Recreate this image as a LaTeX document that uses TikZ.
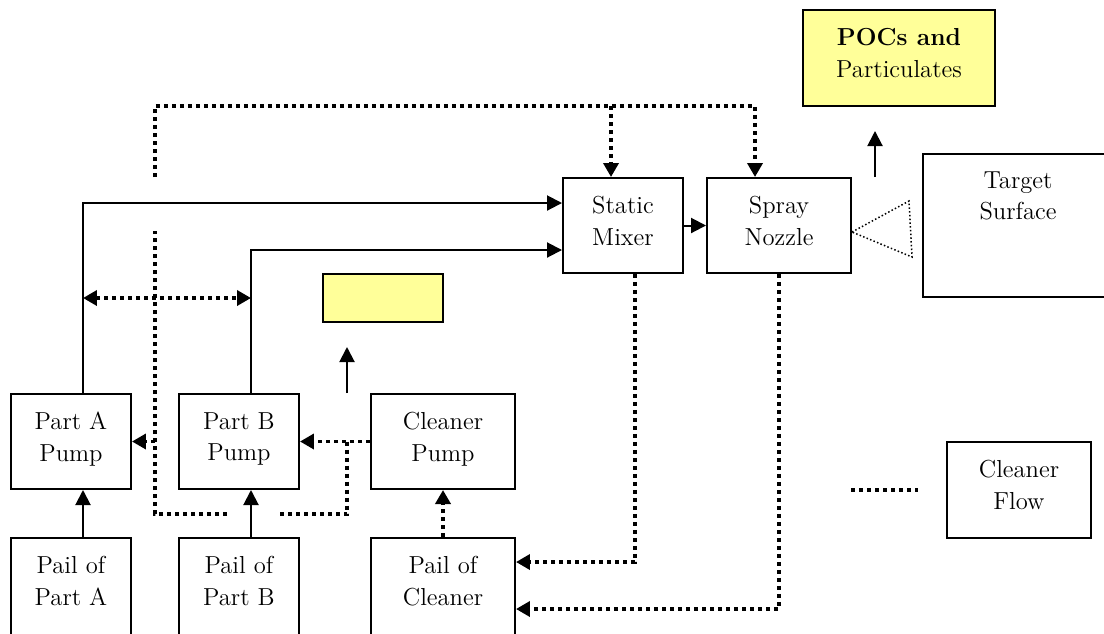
\documentclass[tikz,border=0pt]{standalone}
\usepackage{tikz}
\usetikzlibrary{arrows.meta, positioning}
\definecolor{pocyellow}{HTML}{FFFF99}

\begin{document}
\begin{tikzpicture}[
    x=0.02cm, y=-0.02cm,
    font=\fontsize{14}{18}\selectfont,
    blk/.style={draw, line width=0.04cm, inner sep=0pt,
                minimum width=#1, minimum height=1.9cm},
    blk/.default=2.4cm,
    txt/.style={anchor=north, inner sep=0pt, align=center, yshift=-0.38cm},
    flow/.style={line width=0.04cm, -{Triangle[length=0.3cm, width=0.3cm]}},
    clean/.style={line width=0.075cm, dash pattern=on 0.08cm off 0.08cm},
    cleanarr/.style={clean, -{Triangle[length=0.28cm, width=0.3cm]}},
    spray/.style={line width=0.03cm, dash pattern=on 0.03cm off 0.045cm},
  ]
    \path[use as bounding box, clip] (0,0) rectangle (1104,633);

    % pumps and pails
    \node[blk] (pumpA) at (71,441.5) {};
    \node[txt] (pumpA-t) at (pumpA.north) {Part A\\Pump};
    \node[blk] (pumpB) at (239,441.5) {};
    \node[txt] (pumpB-t) at (pumpB.north) {Part B\\Pump};
    \node[blk=2.88cm] (pumpC) at (443,441.5) {};
    \node[txt] (pumpC-t) at (pumpC.north) {Cleaner\\Pump};
    \node[blk, minimum height=2.04cm] (pailA) at (71,589) {};
    \node[txt] (pailA-t) at (pailA.north) {Pail of\\Part A};
    \node[blk, minimum height=2.04cm] (pailB) at (239,589) {};
    \node[txt] (pailB-t) at (pailB.north) {Pail of\\Part B};
    \node[blk=2.88cm, minimum height=2.04cm] (pailC) at (443,589) {};
    \node[txt] (pailC-t) at (pailC.north) {Pail of\\Cleaner};

    % mixing and spraying
    \node[blk] (mixer) at (623,225.5) {};
    \node[txt] (mixer-t) at (mixer.north) {Static\\Mixer};
    \node[blk=2.88cm] (nozzle) at (779,225.5) {};
    \node[txt] (nozzle-t) at (nozzle.north) {Spray\\Nozzle};
    \node[blk=3.8cm, minimum height=2.86cm] (target) at (1018,225.5) {};
    \node[txt, yshift=0.02cm] (target-t) at (target.north) {Target\\Surface};
    \node[blk=3.84cm, minimum height=1.92cm, fill=pocyellow] (pocs) at (899,58) {};
    \node[txt] (pocs-t) at (pocs.north) {\textbf{POCs and}\\Particulates};
    \node[blk, minimum height=0.96cm, fill=pocyellow] (vocs) at (383,298) {};
    \node[blk=2.88cm, minimum height=1.92cm] (legend) at (1019,490) {};
    \node[txt] (legend-t) at (legend.north) {Cleaner\\Flow};

    % coating flow
    \draw[flow] ([xshift=0.24cm]pailA.north) -- ([xshift=0.24cm]pumpA.south);
    \draw[flow] ([xshift=0.24cm]pailB.north) -- ([xshift=0.24cm]pumpB.south);
    \draw[flow] ([xshift=0.24cm]pumpA.north) |- ([yshift=0.45cm]mixer.west);
    \draw[flow] ([xshift=0.24cm]pumpB.north) |- ([yshift=-0.49cm]mixer.west);
    \draw[flow] (mixer) -- (nozzle);
    \coordinate (fume0) at (875,177);
    \coordinate (fume1) at (875,131);
    \draw[flow] (fume0) -- (fume1);
    \coordinate (vent0) at (347,393);
    \coordinate (vent1) at (347,347);
    \draw[flow] (vent0) -- (vent1);
    \draw[spray] ([yshift=-0.13cm]nozzle.east) -- (909,201) -- (912,257) -- cycle;

    % cleaner flow
    \coordinate (jB) at (347,441.5);
    \coordinate (gapR) at (278,514);
    \coordinate (gapL) at (227,514);
    \coordinate (crossLo) at (155,231);
    \coordinate (crossHi) at (155,177);
    \coordinate (topL) at (155,106);
    \coordinate (lineA) at (83,298);
    \coordinate (lineB) at (251,298);
    \draw[cleanarr] (pailC) -- (pumpC);
    \draw[cleanarr] (pumpC) -- (pumpB);
    \draw[clean] (jB) |- (gapR);
    \draw[clean] (gapL) -| (crossLo);
    \draw[cleanarr] (crossLo |- pumpA) -- (pumpA.east);
    \draw[cleanarr] (crossHi) -- (topL) -| ([xshift=-0.48cm]nozzle.north);
    \draw[cleanarr] ([xshift=-0.24cm]mixer.north |- topL) -- ([xshift=-0.24cm]mixer.north);
    \draw[clean, {Triangle[length=0.28cm, width=0.3cm]}-{Triangle[length=0.28cm, width=0.3cm]}]
      (lineA) -- (lineB);
    \draw[cleanarr] ([xshift=0.24cm]mixer.south) |- ([yshift=0.54cm]pailC.east);
    \draw[cleanarr] (nozzle.south) |- ([yshift=-0.40cm]pailC.east);
    \coordinate (key0) at (851,490);
    \draw[clean] (key0) -- ([xshift=-0.56cm]legend.west);
\end{tikzpicture}
\end{document}
